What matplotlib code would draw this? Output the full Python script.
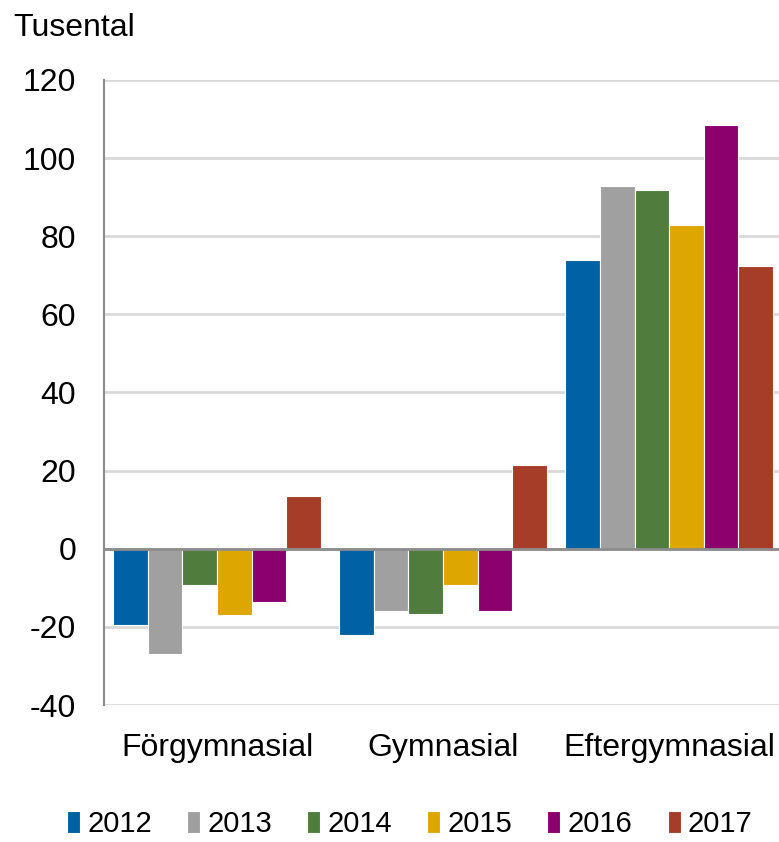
import matplotlib.pyplot as plt
import numpy as np

plt.rcParams['font.family'] = ['Liberation Sans', 'DejaVu Sans']
plt.rcParams['axes.unicode_minus'] = False

groups = ['Förgymnasial', 'Gymnasial', 'Eftergymnasial']
years = ['2012', '2013', '2014', '2015', '2016', '2017']
values = {
    '2012': [-19.6, -22.1, 73.8],
    '2013': [-26.9, -16.0, 92.9],
    '2014': [-9.3, -16.6, 91.9],
    '2015': [-17.0, -9.3, 82.8],
    '2016': [-13.7, -16.0, 108.6],
    '2017': [13.5, 21.4, 72.4],
}
colors = ['#0062A5', '#A0A0A0', '#507D3D', '#DDA600', '#8C006E', '#A63D28']

fig = plt.figure(figsize=(7.79, 8.42), dpi=100)
ax = fig.add_axes([0.1335, 0.1627, 0.8705, 0.7423])

x = np.arange(len(groups))
w = 0.153
for i, y in enumerate(years):
    ax.bar(x + (i - 2.5) * w, values[y], w, color=colors[i],
           edgecolor='white', linewidth=0.8, label=y, zorder=3)

ax.set_ylim(-40, 120)
ax.set_xlim(-0.5, 2.5)
ax.set_yticks(range(-40, 121, 20))
ax.yaxis.grid(True, color='#d9d9d9', linewidth=2, zorder=0)
ax.axhline(0, color='#8c8c8c', linewidth=2, zorder=4)
for s in ['top', 'right', 'bottom']:
    ax.spines[s].set_visible(False)
ax.spines['left'].set_color('#8c8c8c')
ax.spines['left'].set_linewidth(1.5)
ax.tick_params(axis='both', length=0, labelsize=23)
ax.tick_params(axis='y', pad=20)
ax.set_xticks(x)
ax.set_xticklabels(groups)
ax.tick_params(axis='x', pad=20)

fig.text(0.017, 0.967, 'Tusental', fontsize=23, va='center')

fig.legend(loc='center', bbox_to_anchor=(0.526, 0.021), ncol=6,
           fontsize=21, frameon=False, handlelength=0.45, handleheight=0.75,
           handletextpad=0.25, columnspacing=1.2)

fig.savefig('out.png', dpi=100)
